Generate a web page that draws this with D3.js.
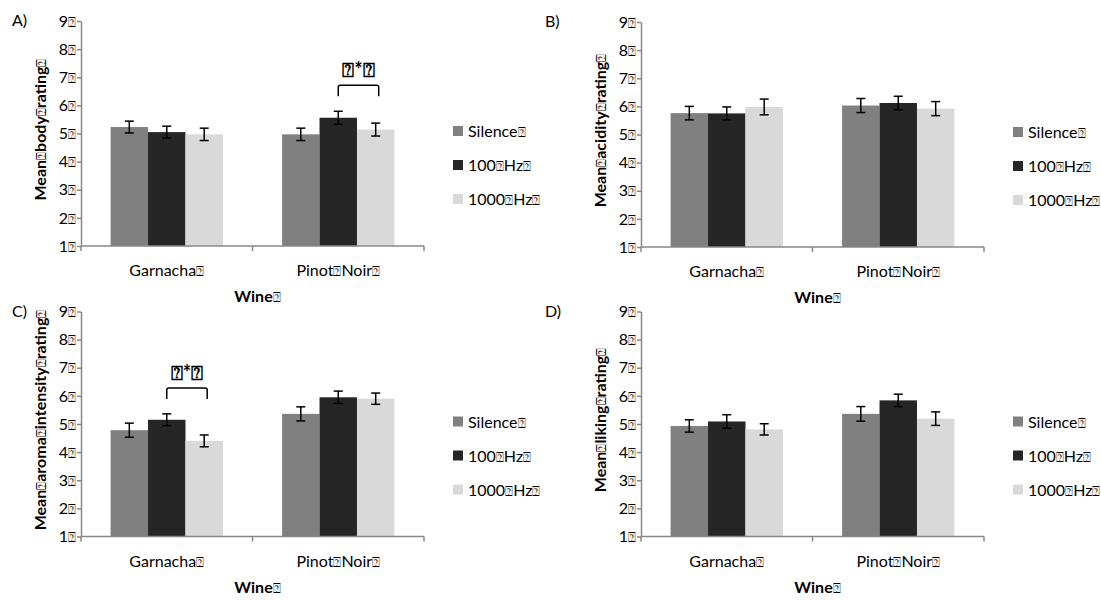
<!DOCTYPE html>
<html>
<head>
<meta charset="utf-8">
<script src="https://cdn.jsdelivr.net/npm/d3@7"></script>
<style>
  body { margin: 0; background: #fff; }
  text { font-family: Lato, 'DejaVu Sans', sans-serif; }
</style>
</head>
<body>
<svg id="chart" width="1101" height="601"></svg>
<script>
// Tofu glyph kept from the original figure text
const Q = '\u2370';

const categories = ['Garnacha' + Q, 'Pinot' + Q + 'Noir' + Q];
const conditions = ['Silence' + Q, '100' + Q + 'Hz' + Q, '1000' + Q + 'Hz' + Q];
const yTicks = [1, 2, 3, 4, 5, 6, 7, 8, 9];
const colors = ['#808080', '#262626', '#d9d9d9'];

// means[category][condition], errors likewise
const bodyMeans = [[5.23, 5.05, 4.97], [4.97, 5.56, 5.14]];
const bodyErrors = [[0.21, 0.21, 0.22], [0.22, 0.23, 0.23]];
const acidityMeans = [[5.76, 5.75, 5.98], [6.03, 6.12, 5.92]];
const acidityErrors = [[0.24, 0.23, 0.28], [0.25, 0.24, 0.25]];
const aromaMeans = [[4.78, 5.15, 4.40], [5.36, 5.95, 5.90]];
const aromaErrors = [[0.25, 0.21, 0.21], [0.25, 0.22, 0.20]];
const likingMeans = [[4.93, 5.09, 4.81], [5.36, 5.84, 5.19]];
const likingErrors = [[0.22, 0.24, 0.20], [0.26, 0.22, 0.24]];

const panels = [
  {tag: 'A)', yLabel: 'Mean' + Q + 'body' + Q + 'rating' + Q, means: bodyMeans, errors: bodyErrors,
   left: 81, top: 21, sig: {cat: 1, from: 1, to: 2}},
  {tag: 'B)', yLabel: 'Mean' + Q + 'acidity' + Q + 'rating' + Q, means: acidityMeans, errors: acidityErrors,
   left: 641, top: 22, sig: null},
  {tag: 'C)', yLabel: 'Mean' + Q + 'aroma' + Q + 'intensity' + Q + 'rating' + Q, means: aromaMeans, errors: aromaErrors,
   left: 81, top: 311.5, sig: {cat: 0, from: 1, to: 2}},
  {tag: 'D)', yLabel: 'Mean' + Q + 'liking' + Q + 'rating' + Q, means: likingMeans, errors: likingErrors,
   left: 641, top: 311.5, sig: null},
];

const plotW = 343;
const plotH = 225;
const axisColor = '#878787';

const svg = d3.select('#chart');

// Write a string into a text element, with the tofu glyphs drawn a bit smaller
function tofuText(sel, str) {
  sel.text(null);
  str.split(/(\u2370)/).filter((s) => s.length).forEach((s) => {
    const t = sel.append('tspan').text(s);
    if (s === Q) t.attr('font-size', '0.8em').attr('font-weight', 'normal');
  });
}

panels.forEach((p) => {
  const g = svg.append('g').attr('transform', `translate(${p.left},${p.top})`);

  const x0 = d3.scaleBand().domain(categories).range([0, plotW]);
  const x1 = d3.scaleBand().domain(conditions).range([0, x0.bandwidth()])
      .paddingInner(0).paddingOuter(0.79);
  const y = d3.scaleLinear().domain([1, 9]).range([plotH, 0]);

  // Bars
  const groups = g.append('g').selectAll('g')
      .data(categories)
      .join('g')
      .attr('transform', (d) => `translate(${x0(d)},0)`);

  groups.selectAll('rect')
      .data((d, i) => conditions.map((c, j) => ({c, j, v: p.means[i][j]})))
      .join('rect')
      .attr('x', (d) => x1(d.c))
      .attr('width', x1.bandwidth())
      .attr('y', (d) => y(d.v))
      .attr('height', (d) => y(1) - y(d.v))
      .attr('fill', (d) => colors[d.j]);

  // Error bars
  const err = groups.selectAll('g.err')
      .data((d, i) => conditions.map((c, j) => ({c, v: p.means[i][j], e: p.errors[i][j]})))
      .join('g')
      .attr('class', 'err')
      .attr('stroke', '#000')
      .attr('stroke-width', 1.5);
  const cx = (d) => x1(d.c) + x1.bandwidth() / 2;
  err.append('line')
      .attr('x1', cx).attr('x2', cx)
      .attr('y1', (d) => y(d.v + d.e)).attr('y2', (d) => y(d.v - d.e));
  err.append('line')
      .attr('x1', (d) => cx(d) - 4.5).attr('x2', (d) => cx(d) + 4.5)
      .attr('y1', (d) => y(d.v + d.e)).attr('y2', (d) => y(d.v + d.e));
  err.append('line')
      .attr('x1', (d) => cx(d) - 4.5).attr('x2', (d) => cx(d) + 4.5)
      .attr('y1', (d) => y(d.v - d.e)).attr('y2', (d) => y(d.v - d.e));

  // Y axis
  const yAxis = g.append('g')
      .call(d3.axisLeft(y).tickValues(yTicks).tickSize(4).tickSizeOuter(0));
  yAxis.select('.domain').attr('stroke', axisColor).attr('stroke-width', 1.5);
  yAxis.selectAll('.tick line').attr('stroke', axisColor).attr('stroke-width', 1.5);
  yAxis.selectAll('.tick text')
      .attr('font-family', 'Lato, DejaVu Sans, sans-serif')
      .attr('font-size', 16).attr('fill', '#000').attr('x', -5)
      .each(function(d) { tofuText(d3.select(this), d + Q); });

  // X axis: line with ticks at category boundaries
  const xa = g.append('g').attr('transform', `translate(0,${plotH})`)
      .attr('stroke', axisColor).attr('stroke-width', 1.5);
  xa.append('line').attr('x1', 0).attr('x2', plotW);
  const bounds = categories.map((c) => x0(c)).concat([plotW]);
  xa.selectAll('line.b').data(bounds).join('line')
      .attr('class', 'b')
      .attr('x1', (d) => d).attr('x2', (d) => d)
      .attr('y1', 0).attr('y2', 5);

  g.append('g').selectAll('text')
      .data(categories)
      .join('text')
      .attr('x', (d) => x0(d) + x0.bandwidth() / 2)
      .attr('y', plotH + 30)
      .attr('text-anchor', 'middle')
      .attr('font-size', 16)
      .each(function(d) { tofuText(d3.select(this), d); });

  g.append('text')
      .attr('x', plotW / 2 + 5)
      .attr('y', plotH + 56)
      .attr('text-anchor', 'middle')
      .attr('font-size', 16)
      .attr('font-weight', 'bold')
      .call(tofuText, 'Wine' + Q);

  g.append('text')
      .attr('transform', `translate(-35,${plotH / 2 - 4}) rotate(-90)`)
      .attr('text-anchor', 'middle')
      .attr('font-size', 16)
      .attr('font-weight', 'bold')
      .call(tofuText, p.yLabel);

  // Panel tag
  g.append('text')
      .attr('x', p.left === 81 ? -69 : -96)
      .attr('y', 5)
      .attr('font-family', 'Liberation Sans, Arial, sans-serif')
      .attr('font-size', 16)
      .text(p.tag);

  // Legend
  const lg = g.append('g').attr('transform', 'translate(372,0)');
  const rowsY = [110, 144, 178];
  conditions.forEach((c, j) => {
    lg.append('rect').attr('x', 0).attr('y', rowsY[j] - 5)
        .attr('width', 10).attr('height', 10).attr('fill', colors[j]);
    lg.append('text').attr('x', 15).attr('y', rowsY[j] + 6)
        .attr('font-size', 16).call(tofuText, c);
  });

  // Significance bracket
  if (p.sig) {
    const cat = categories[p.sig.cat];
    const xa1 = x0(cat) + x1(conditions[p.sig.from]) + x1.bandwidth() / 2;
    const xa2 = x0(cat) + x1(conditions[p.sig.to]) + x1.bandwidth() / 2 + 3;
    const topY = y(p.means[p.sig.cat][p.sig.from] + p.errors[p.sig.cat][p.sig.from]) - 26;
    g.append('path')
        .attr('d', `M${xa1},${topY + 11}V${topY + 2}Q${xa1},${topY} ${xa1 + 2},${topY}` +
            `H${xa2 - 2}Q${xa2},${topY} ${xa2},${topY + 2}V${topY + 11}`)
        .attr('fill', 'none').attr('stroke', '#000').attr('stroke-width', 1.5);
    g.append('text')
        .attr('x', (xa1 + xa2) / 2)
        .attr('y', topY - 8)
        .attr('text-anchor', 'middle')
        .attr('font-size', 20)
        .attr('font-weight', 'bold')
        .text(Q + '*' + Q);
  }
});
</script>
</body>
</html>
